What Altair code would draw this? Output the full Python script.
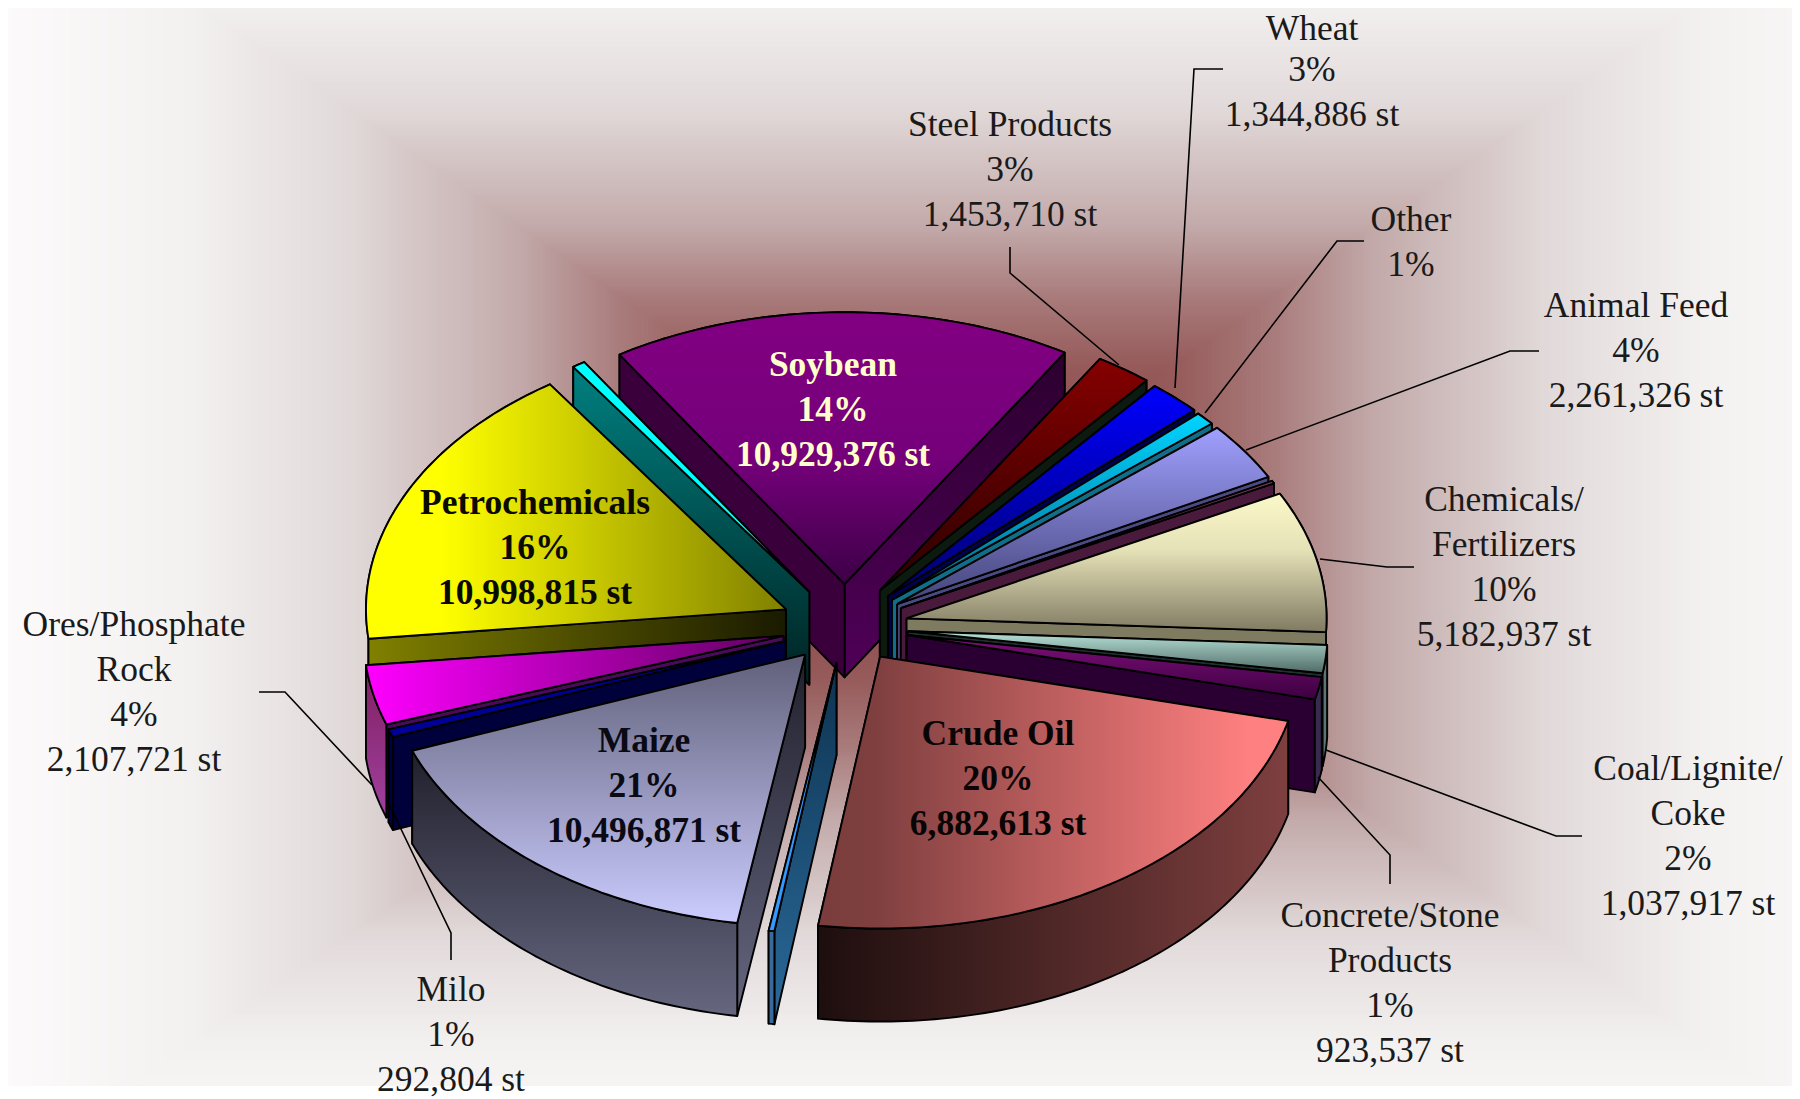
import numpy as np
import pandas as pd
import altair as alt

# ---------- values ----------
NAMES = ["Soybean", "Steel Products", "Wheat", "Other", "Animal Feed", "Sliver A",
         "Chemicals", "Coal", "Concrete", "Crude Oil", "Sliver B", "Maize", "Milo",
         "Ores", "Petrochemicals", "Sliver C"]
# apparent angular span of every slice, degrees, clockwise
SPANS = [64.0, 7.8, 7.4, 2.8, 12.5, 0.6, 30.2, 6.0, 4.8, 84.8, 0.8, 60.0, 1.7, 12.8, 62.0, 1.8]
FIRST_ANGLE = -32.4
# how far every slice is pulled out of the pie, px, across and along the view
EXPLODE_X = [63, 60, 63, 63, 63, 63, 63, 63, 63, 63, 55, 63, 63, 63, 65, 65]
EXPLODE_Y = [66, 69, 65, 63, 63, 63, 63, 63, 63, 55, 55, 55, 63, 63, 65, 65]

# text labels: lines per slice
LABEL_LINES = [
    ["Wheat", "3%", "1,344,886 st"],
    ["Steel Products", "3%", "1,453,710 st"],
    ["Other", "1%"],
    ["Animal Feed", "4%", "2,261,326 st"],
    ["Chemicals/", "Fertilizers", "10%", "5,182,937 st"],
    ["Coal/Lignite/", "Coke", "2%", "1,037,917 st"],
    ["Concrete/Stone", "Products", "1%", "923,537 st"],
    ["Milo", "1%", "292,804 st"],
    ["Ores/Phosphate", "Rock", "4%", "2,107,721 st"],
    ["Soybean", "14%", "10,929,376 st"],
    ["Petrochemicals", "16%", "10,998,815 st"],
    ["Maize", "21%", "10,496,871 st"],
    ["Crude Oil", "20%", "6,882,613 st"],
]

# ---------- layout ----------
LABEL_X = [1312, 1010, 1411, 1636, 1504, 1688, 1390, 451, 134, 833, 535, 644, 998]
LABEL_Y0 = [24.5, 124.5, 219.5, 305.5, 499.5, 768.5, 915.5, 989.5, 624.5, 364.5, 502.5, 740.5, 733.5]
LABEL_BOLD = [False] * 9 + [True] * 4
LABEL_COLOR = ["#1a1a1a"] * 9 + ["#ffffcc", "#0a0a00", "#0a0a14", "#0a0505"]
LINE_STEP = 45
FIRST_LINE_SHIFT = {"Wheat": 4.5}  # keeps the top line inside the page
FONT = "Liberation Serif"
FONT_SIZE = 35.5

LEADERS = [
    [(1223, 69), (1194, 69), (1175, 388)],
    [(1010, 247), (1010, 273), (1119, 365)],
    [(1364, 241), (1337, 241), (1205, 413)],
    [(1539, 351), (1510, 351), (1246, 450)],
    [(1320, 559), (1387, 567), (1414, 567)],
    [(1582, 836), (1556, 836), (1326, 750)],
    [(1390, 884), (1390, 855), (1318, 777)],
    [(451, 960), (451, 933), (387, 800)],
    [(259, 692), (285, 692), (372, 785)],
]

CX, CY = 845, 627
RX, RY = 420, 272
DEPTH = 93

SX = alt.Scale(domain=[8, 1792], range=[0, 1784], nice=False, zero=False)
SY = alt.Scale(domain=[8, 1086], range=[0, 1078], nice=False, zero=False)
XE = alt.X("x:Q", scale=SX, axis=None)
YE = alt.Y("y:Q", scale=SY, axis=None)


def grad(direction, *colors):
    end = {"h": dict(x1=0, y1=0, x2=1, y2=0), "v": dict(x1=0, y1=0, x2=0, y2=1)}[direction]
    n = len(colors) - 1
    stops = []
    for i, c in enumerate(colors):
        off, col = c if isinstance(c, tuple) else (i / n, c)
        stops.append(alt.GradientStop(offset=off, color=col))
    return alt.LinearGradient(gradient="linear", stops=stops, **end)


# style per slice: top, start-edge wall, end-edge wall, outer wall
STYLE = {
    "Soybean": (grad("v", "#820082", (0.55, "#74007a"), (1, "#3c0046")), "#3a003c",
                grad("v", "#2c0030", "#500058"), "#400040"),
    "Steel Products": (grad("v", "#860000", "#2a0000"), "#200000", "#0c1a10", "#400000"),
    "Wheat": (grad("v", "#0000ff", "#000070"), "#000040", "#000050", "#000060"),
    "Other": (grad("v", "#00d4ff", "#006a90"), "#004050", "#106f88", "#006070"),
    "Animal Feed": (grad("v", "#a0a0ff", "#44447a"), "#303050", "#4a4a80", "#4a4a80"),
    "Sliver A": ("#7a3a5a", "#401030", "#4a1a3c", "#401030"),
    "Chemicals": (grad("v", "#fbf8c8", (0.4, "#e6e2b8"), (1, "#807a62")), "#6a664e", "#7f7b60", "#7f7b60"),
    "Coal": (grad("v", "#b8e4da", "#506a66"), "#2a4440", "#20302e", "#5c7474"),
    "Concrete": (grad("v", "#80107c", "#3c0040"), "#200024", "#2a0032", "#3a2a50"),
    "Crude Oil": (grad("h", (0, "#7a3c3c"), (0.12, "#7f3f3f"), (0.92, "#ff8080"), (1, "#ff8080")),
                  "#401818", "#401818", grad("h", "#1e0e0e", "#7e3f3f")),
    "Sliver B": ("#3399ff", grad("v", "#0e3350", "#2a6a9a"), "#1a4060", "#3a6a9c"),
    "Maize": (grad("v", "#60607a", "#ccccff"), grad("v", "#20202c", "#666680"),
              "#303040", grad("v", "#20202c", "#666680")),
    "Milo": ("#000098", "#00003a", "#000044", "#000044"),
    "Ores": (grad("h", "#ff00ff", "#600060"), "#4a0a5a", "#400050", grad("v", "#802060", "#a040a0")),
    "Petrochemicals": (grad("h", (0, "#ffff00"), (0.18, "#ffff00"), (1, "#808000")),
                       grad("h", "#808000", "#1a1a00"), "#1a1a00", "#808000"),
    "Sliver C": ("#00ffff", grad("v", "#008080", "#002222"), grad("v", "#008080", "#002222"), "#008080"),
}
DRAW_ORDER = ["Soybean", "Steel Products", "Wheat", "Other", "Animal Feed", "Sliver A",
              "Chemicals", "Coal", "Concrete", "Sliver C", "Petrochemicals", "Ores", "Milo",
              "Maize", "Sliver B", "Crude Oil"]


def polygon(points, fill):
    xs = [p[0] for p in points] + [points[0][0]]
    ys = [p[1] for p in points] + [points[0][1]]
    df = pd.DataFrame({"x": xs, "y": ys, "i": range(len(xs))})
    return alt.Chart(df).mark_line(
        fill=fill, stroke="black", strokeWidth=1.9, strokeJoin="round", clip=True
    ).encode(x=XE, y=YE, order="i:Q")


def on_ellipse(ox, oy, deg, radius_x=RX, radius_y=RY):
    t = np.radians(deg)
    return (ox + radius_x * np.sin(t), oy - radius_y * np.cos(t))


# background: rectangular gradient about the image centre
STOP_T = [0.0, 0.30, 0.43, 0.57, 0.80, 1.00, 1.25]
STOP_R = [130, 150, 168, 195, 226, 243, 252]
STOP_G = [60, 90, 122, 170, 218, 240, 250]
BG_X, BG_Y, BG_HX, BG_HY = 947, 522, 756, 522
levels = np.arange(1.3, 0, -0.005)
bg = pd.DataFrame({
    "x": np.clip(BG_X - levels * BG_HX, 8, 1792),
    "x2": np.clip(BG_X + levels * BG_HX, 8, 1792),
    "y": np.clip(BG_Y - levels * BG_HY, 8, 1086),
    "y2": np.clip(BG_Y + levels * BG_HY, 8, 1086),
    "c": [
        "rgb({:.0f},{:.0f},{:.0f})".format(
            np.interp(t, STOP_T, STOP_R), np.interp(t, STOP_T, STOP_G), np.interp(t, STOP_T, STOP_G)
        )
        for t in levels
    ],
    "i": range(len(levels)),
})
layers = [
    alt.Chart(bg).mark_rect(clip=True).encode(
        x=XE, x2="x2:Q", y=YE, y2="y2:Q",
        color=alt.Color("c:N", scale=None), order="i:Q",
    )
]

# slices
edges = FIRST_ANGLE + np.concatenate([[0], np.cumsum(SPANS)])
for name in DRAW_ORDER:
    k = NAMES.index(name)
    a0, a1 = edges[k], edges[k + 1]
    mid = (a0 + a1) / 2
    t = np.radians(mid)
    ax = CX + EXPLODE_X[k] * np.sin(t)
    ay = CY - EXPLODE_Y[k] * RY / RX * np.cos(t)
    arc = [on_ellipse(ax, ay, d) for d in np.linspace(a0, a1, max(3, int(a1 - a0) + 2))]
    down = lambda p: (p[0], p[1] + DEPTH)
    top, w0, w1, outer = STYLE[name]
    wall0 = polygon([(ax, ay), arc[0], down(arc[0]), (ax, ay + DEPTH)], w0)
    wall1 = polygon([(ax, ay), arc[-1], down(arc[-1]), (ax, ay + DEPTH)], w1)
    # the radial wall that points further back goes first
    radial = [wall0, wall1] if np.cos(np.radians(a0)) >= np.cos(np.radians(a1)) else [wall1, wall0]
    rim = polygon(arc + [down(p) for p in reversed(arc)], outer)
    # back-facing slices: the rim wall lies behind the radial walls
    if np.cos(t) > 0:
        layers += [rim] + radial
    else:
        layers += radial + [rim]
    layers.append(polygon([(ax, ay)] + arc, top))

# leader lines
rows = []
for n, pts in enumerate(LEADERS):
    for i, (x, y) in enumerate(pts):
        rows.append({"x": x, "y": y, "i": i, "g": n})
layers.append(
    alt.Chart(pd.DataFrame(rows)).mark_line(color="black", strokeWidth=1.6).encode(
        x=XE, y=YE, detail="g:N", order="i:Q"
    )
)

# labels
rows = []
for lines, x, y0, bold, col in zip(LABEL_LINES, LABEL_X, LABEL_Y0, LABEL_BOLD, LABEL_COLOR):
    for i, text in enumerate(lines):
        y = y0 + i * LINE_STEP + FIRST_LINE_SHIFT.get(text, 0)
        rows.append({"x": x, "y": y, "t": text, "b": bold, "c": col})
lab = pd.DataFrame(rows)
for bold, weight in ((False, "normal"), (True, "bold")):
    layers.append(
        alt.Chart(lab[lab.b == bold]).mark_text(
            font=FONT, fontSize=FONT_SIZE, fontWeight=weight, align="center", baseline="middle"
        ).encode(x=XE, y=YE, text="t:N", color=alt.Color("c:N", scale=None))
    )

chart = (
    alt.layer(*layers)
    .properties(width=1784, height=1078, padding=0, background="white")
    .configure_view(stroke=None)
)
chart.save("out.html", embed_options={"renderer": "svg", "actions": False})
